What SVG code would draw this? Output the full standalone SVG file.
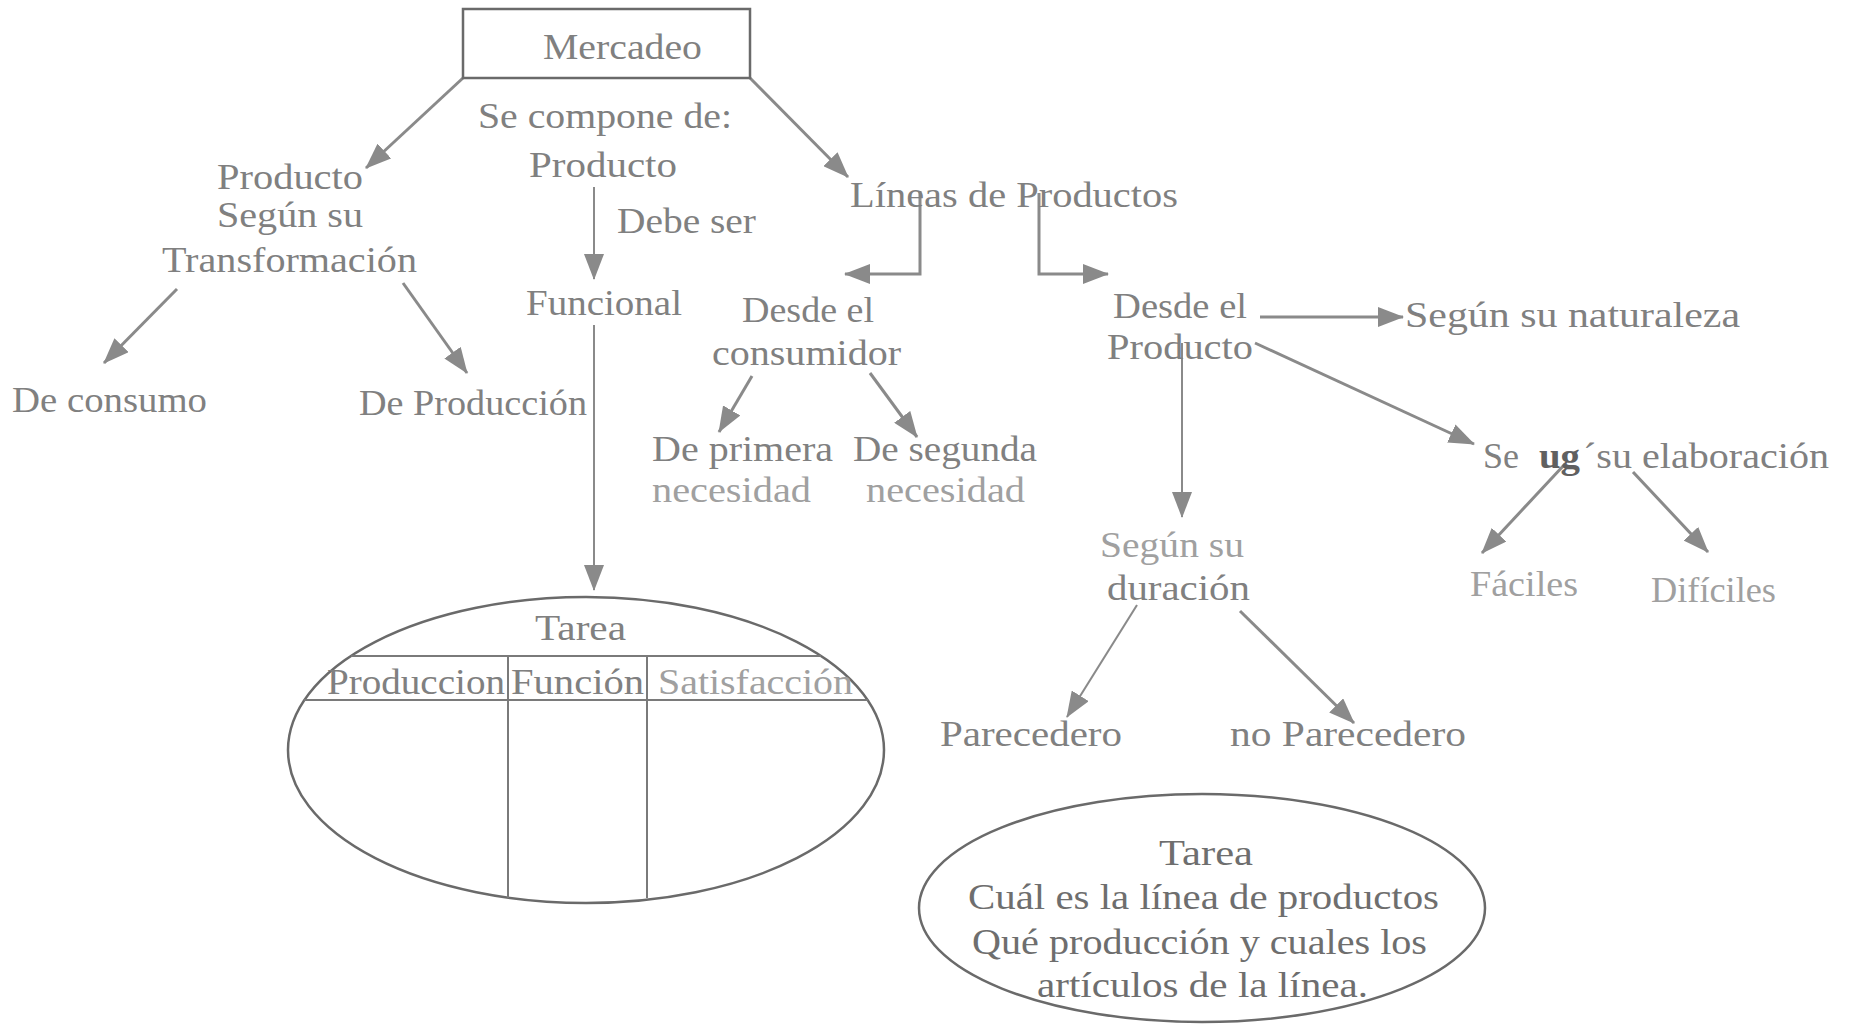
<svg xmlns="http://www.w3.org/2000/svg" width="1852" height="1029" viewBox="0 0 1852 1029">
<style>
text{font-family:"Liberation Serif","Times New Roman",serif;font-size:36px;fill:#808080;}
.lt{fill:#a0a0a0;}
.dk{fill:#6e6e6e;}
.b{font-weight:bold;fill:#606060;}
.c{stroke:#8a8a8a;stroke-width:3;fill:none;}
.t{stroke-width:2;}
.shape{fill:none;stroke:#6a6a6a;stroke-width:2.5;}
.tbl{stroke:#7a7a7a;stroke-width:2;fill:none;}
</style>
<defs>
<marker id="ah" markerUnits="userSpaceOnUse" viewBox="0 0 26 20" refX="25" refY="10" markerWidth="26" markerHeight="20" orient="auto">
<path d="M0,0 L26,10 L0,20 Z" fill="#8a8a8a"/>
</marker>
</defs>
<rect width="1852" height="1029" fill="#ffffff"/>

<g id="connectors">
<line class="c" x1="463" y1="78" x2="366" y2="168" marker-end="url(#ah)"/>
<line class="c" x1="750" y1="78" x2="848" y2="177" marker-end="url(#ah)"/>
<line class="c t" x1="594" y1="187" x2="594" y2="279" marker-end="url(#ah)"/>
<line class="c t" x1="594" y1="325" x2="594" y2="590" marker-end="url(#ah)"/>
<line class="c" x1="177" y1="289" x2="104" y2="363" marker-end="url(#ah)"/>
<line class="c" x1="403" y1="283" x2="467" y2="373" marker-end="url(#ah)"/>
<polyline class="c" points="920,191 920,274 845,274" marker-end="url(#ah)"/>
<polyline class="c" points="1039,193 1039,274 1108,274" marker-end="url(#ah)"/>
<line class="c" x1="752" y1="376" x2="719" y2="432" marker-end="url(#ah)"/>
<line class="c" x1="870" y1="373" x2="917" y2="437" marker-end="url(#ah)"/>
<line class="c" x1="1260" y1="317" x2="1403" y2="317" marker-end="url(#ah)"/>
<line class="c" x1="1255" y1="343" x2="1474" y2="444" marker-end="url(#ah)"/>
<line class="c t" x1="1182" y1="343" x2="1182" y2="517" marker-end="url(#ah)"/>
<line class="c" x1="1565" y1="464" x2="1482" y2="553" marker-end="url(#ah)"/>
<line class="c" x1="1633" y1="472" x2="1708" y2="552" marker-end="url(#ah)"/>
<line class="c t" x1="1137" y1="605" x2="1067" y2="717" marker-end="url(#ah)"/>
<line class="c" x1="1240" y1="611" x2="1354" y2="723" marker-end="url(#ah)"/>
</g>

<g id="mercadeo">
<rect class="shape" x="463" y="9" width="287" height="69"/>
<text x="543" y="59" textLength="159" lengthAdjust="spacingAndGlyphs">Mercadeo</text>
</g>
<g id="se-compone">
<text x="478" y="128" textLength="254" lengthAdjust="spacingAndGlyphs">Se compone de:</text>
</g>
<g id="producto-mid">
<text x="529" y="177" textLength="148" lengthAdjust="spacingAndGlyphs">Producto</text>
</g>
<g id="debe-ser">
<text x="617" y="233" textLength="139" lengthAdjust="spacingAndGlyphs">Debe ser</text>
</g>
<g id="funcional">
<text x="526" y="315" textLength="156" lengthAdjust="spacingAndGlyphs">Funcional</text>
</g>
<g id="producto-transformacion">
<text x="217" y="189" textLength="146" lengthAdjust="spacingAndGlyphs">Producto</text>
<text x="217" y="227" textLength="146" lengthAdjust="spacingAndGlyphs">Según su</text>
<text x="162" y="272" textLength="255" lengthAdjust="spacingAndGlyphs">Transformación</text>
</g>
<g id="de-consumo">
<text x="12" y="412" textLength="195" lengthAdjust="spacingAndGlyphs">De consumo</text>
</g>
<g id="de-produccion">
<text x="359" y="415" textLength="228" lengthAdjust="spacingAndGlyphs">De Producción</text>
</g>
<g id="lineas">
<text x="850" y="207" textLength="328" lengthAdjust="spacingAndGlyphs">Líneas de Productos</text>
</g>
<g id="desde-consumidor">
<text x="742" y="322" textLength="132" lengthAdjust="spacingAndGlyphs">Desde el</text>
<text x="712" y="365" textLength="189" lengthAdjust="spacingAndGlyphs">consumidor</text>
</g>
<g id="primera">
<text x="652" y="461" textLength="181" lengthAdjust="spacingAndGlyphs">De primera</text>
<text class="lt" x="652" y="502" textLength="159" lengthAdjust="spacingAndGlyphs">necesidad</text>
</g>
<g id="segunda">
<text x="853" y="461" textLength="184" lengthAdjust="spacingAndGlyphs">De segunda</text>
<text class="lt" x="866" y="502" textLength="159" lengthAdjust="spacingAndGlyphs">necesidad</text>
</g>
<g id="desde-producto">
<text x="1113" y="318" textLength="134" lengthAdjust="spacingAndGlyphs">Desde el</text>
<text x="1107" y="359" textLength="146" lengthAdjust="spacingAndGlyphs">Producto</text>
</g>
<g id="naturaleza">
<text x="1405" y="327" textLength="335" lengthAdjust="spacingAndGlyphs">Según su naturaleza</text>
</g>
<g id="elaboracion">
<text x="1483" y="468">Se</text>
<text class="b" x="1539" y="468" textLength="41" lengthAdjust="spacingAndGlyphs">ug</text>
<text x="1583" y="468" textLength="246" lengthAdjust="spacingAndGlyphs">´su elaboración</text>
</g>
<g id="faciles">
<text class="lt" x="1470" y="596" textLength="108" lengthAdjust="spacingAndGlyphs">Fáciles</text>
</g>
<g id="dificiles">
<text class="lt" x="1651" y="602" textLength="125" lengthAdjust="spacingAndGlyphs">Difíciles</text>
</g>
<g id="duracion">
<text class="lt" x="1100" y="557" textLength="144" lengthAdjust="spacingAndGlyphs">Según su</text>
<text x="1107" y="600" textLength="143" lengthAdjust="spacingAndGlyphs">duración</text>
</g>
<g id="parecedero">
<text x="940" y="746" textLength="182" lengthAdjust="spacingAndGlyphs">Parecedero</text>
</g>
<g id="no-parecedero">
<text x="1230" y="746" textLength="236" lengthAdjust="spacingAndGlyphs">no Parecedero</text>
</g>
<g id="tarea-tabla">
<ellipse class="shape" cx="586" cy="750" rx="298" ry="153"/>
<text x="535" y="640" textLength="91" lengthAdjust="spacingAndGlyphs">Tarea</text>
<line class="tbl" x1="351" y1="656" x2="821" y2="656"/>
<line class="tbl" x1="304" y1="700" x2="868" y2="700"/>
<line class="tbl" x1="508" y1="656" x2="508" y2="898"/>
<line class="tbl" x1="647" y1="656" x2="647" y2="898"/>
<text x="327" y="694" textLength="178" lengthAdjust="spacingAndGlyphs">Produccion</text>
<text x="511" y="694" textLength="133" lengthAdjust="spacingAndGlyphs">Función</text>
<text class="lt" x="658" y="694" textLength="195" lengthAdjust="spacingAndGlyphs">Satisfacción</text>
</g>
<g id="tarea-lineas">
<ellipse class="shape" cx="1202" cy="908" rx="283" ry="114"/>
<text class="dk" x="1159" y="865" textLength="94" lengthAdjust="spacingAndGlyphs">Tarea</text>
<text class="dk" x="968" y="909" textLength="471" lengthAdjust="spacingAndGlyphs">Cuál es la línea de productos</text>
<text class="dk" x="972" y="954" textLength="455" lengthAdjust="spacingAndGlyphs">Qué producción y cuales los</text>
<text class="dk" x="1037" y="997" textLength="331" lengthAdjust="spacingAndGlyphs">artículos de la línea.</text>
</g>
</svg>
